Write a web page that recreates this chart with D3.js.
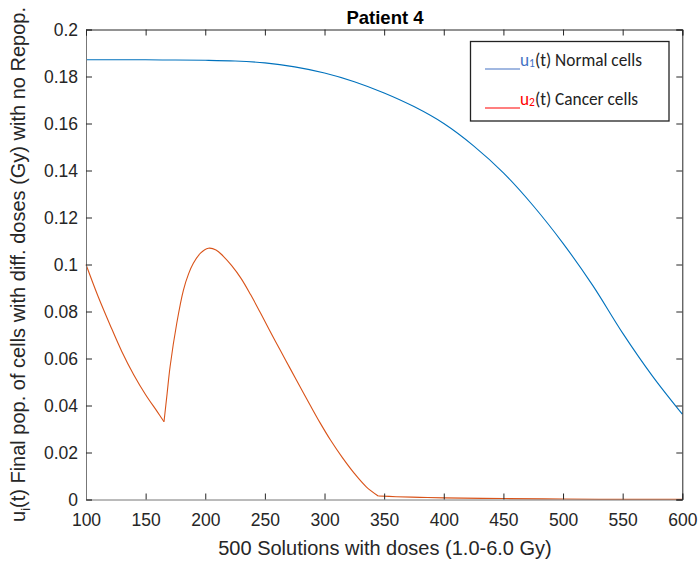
<!DOCTYPE html>
<html><head><meta charset="utf-8">
<script src="https://cdn.jsdelivr.net/npm/d3@7"></script>
<style>body{margin:0;background:#fff}svg{display:block}</style>
</head><body>
<svg id="c" width="699" height="563"></svg>
<script>
const xTicks = [100,150,200,250,300,350,400,450,500,550,600];
const yTicks = [0,0.02,0.04,0.06,0.08,0.1,0.12,0.14,0.16,0.18,0.2];
const yTickLabels = ["0","0.02","0.04","0.06","0.08","0.1","0.12","0.14","0.16","0.18","0.2"];

const normalX = [100,125,150,175,200,225,250,275,300,325,350,375,400,425,450,475,500,525,550,575,600];
const normalY = [0.1871,0.1871,0.1871,0.1870,0.1869,0.1866,0.1858,0.1841,0.1815,0.1778,0.1730,0.1672,0.1600,0.1505,0.1390,0.1250,0.1090,0.0910,0.0708,0.0525,0.0363];

// cancer-cell curve, split at its sharp corners (minimum at ~165, knee at ~345)
const cancerX1 = [100,110,120,130,140,150,160,165.4];
const cancerY1 = [0.1000,0.0866,0.0745,0.0630,0.0531,0.0446,0.0372,0.0331];
const cancerX2 = [165.4,168,170.5,176.1,181.7,186,190,196,202.6,209,215,222,230,238,246,254,262.8,271,279.5,288,296.3,305,315,325,335,345];
const cancerY2 = [0.0331,0.0450,0.0565,0.0750,0.0891,0.0960,0.1005,0.1048,0.1069,0.1062,0.1036,0.0996,0.0941,0.0872,0.0797,0.0719,0.0636,0.0559,0.0480,0.0401,0.0326,0.0253,0.0178,0.0111,0.0054,0.0015];
const cancerX3 = [345,360,380,400,450,500,550,600];
const cancerY3 = [0.0015,0.0012,0.0009,0.0007,0.0004,0.0002,0.0001,0.0001];

const svg = d3.select("#c");
const L = 86, R = 682.3, T = 29.5, B = 499.5;
const x = d3.scaleLinear().domain([100,600]).range([L,R]);
const y = d3.scaleLinear().domain([0,0.2]).range([B,T]);
const axisColor = "#262626";
const font = "'Liberation Sans', Arial, Helvetica, sans-serif";

const line = d3.line().x(d=>x(d[0])).y(d=>y(d[1])).curve(d3.curveCatmullRom.alpha(0.5));
const zip = (a,b)=>a.map((v,i)=>[v,b[i]]);
svg.append("path").datum(zip(normalX,normalY))
  .attr("d",line).attr("fill","none").attr("stroke","#0072BD").attr("stroke-width",1.1);
[[cancerX1,cancerY1],[cancerX2,cancerY2],[cancerX3,cancerY3]].forEach(([a,b])=>{
  svg.append("path").datum(zip(a,b))
    .attr("d",line).attr("fill","none").attr("stroke","#D95319").attr("stroke-width",1.1)
    .attr("stroke-linejoin","round");
});

// axes
const gx = svg.append("g").attr("transform",`translate(0,${B})`)
  .call(d3.axisBottom(x).tickValues(xTicks).tickSize(-6).tickPadding(14).tickFormat(d3.format("d")));
const gy = svg.append("g").attr("transform",`translate(${L},0)`)
  .call(d3.axisLeft(y).tickValues(yTicks).tickSize(-6).tickPadding(8).tickFormat((d,i)=>yTickLabels[i]));
const gxt = svg.append("g").attr("transform",`translate(0,${T})`)
  .call(d3.axisTop(x).tickValues(xTicks).tickSize(-6).tickFormat(""));
const gyr = svg.append("g").attr("transform",`translate(${R},0)`)
  .call(d3.axisRight(y).tickValues(yTicks).tickSize(-6).tickFormat(""));
[gx,gy,gxt,gyr].forEach(g=>{
  g.selectAll(".tick line").attr("stroke",axisColor);
  g.selectAll("text").attr("font-family",font).attr("font-size",17.5).attr("fill",axisColor);
});
gx.select(".domain").attr("stroke","#777");
gy.select(".domain").attr("stroke","#777");
gxt.select(".domain").attr("stroke",axisColor);
gyr.select(".domain").attr("stroke",axisColor);

// title
svg.append("text").attr("x",385).attr("y",24).attr("text-anchor","middle")
  .attr("font-family",font).attr("font-size",18.5).attr("font-weight","bold").attr("fill","#000")
  .text("Patient 4");

// x label
svg.append("text").attr("x",385).attr("y",555).attr("text-anchor","middle")
  .attr("font-family",font).attr("font-size",20).attr("fill",axisColor)
  .text("500 Solutions with doses (1.0-6.0 Gy)");

// y label
const yl = svg.append("text").attr("transform",`translate(25,${(T+B)/2}) rotate(-90)`)
  .attr("text-anchor","middle").attr("font-family",font).attr("font-size",20).attr("fill",axisColor);
yl.append("tspan").text("u");
yl.append("tspan").attr("font-size",13).attr("dy",5).text("i");
yl.append("tspan").attr("dy",-5).text("(t) Final pop. of cells with diff. doses (Gy) with no Repop.");

// legend
const lg = svg.append("g");
lg.append("rect").attr("x",470.5).attr("y",41.5).attr("width",198.5).attr("height",79.5)
  .attr("fill","#fff").attr("stroke","#222").attr("stroke-width",1.3);
const lfont = "Carlito, 'Open Sans', Lato, sans-serif";
const legendItems = [["1","Normal cells","#4472C4",69],["2","Cancer cells","#FF0000",108]];
legendItems.forEach(([sub,label,col,yy])=>{
  lg.append("line").attr("x1",485).attr("x2",520).attr("y1",yy).attr("y2",yy).attr("stroke",col).attr("stroke-width",1.2);
  const t = lg.append("text").attr("x",520).attr("y",yy-3).attr("font-family",lfont).attr("font-size",17.3).attr("fill","#222");
  t.append("tspan").attr("fill",col).text("u");
  t.append("tspan").attr("fill",col).attr("font-size",11.5).attr("dy",1).text(sub);
  t.append("tspan").attr("dy",-1).text("(t) "+label);
});
</script>
</body></html>
